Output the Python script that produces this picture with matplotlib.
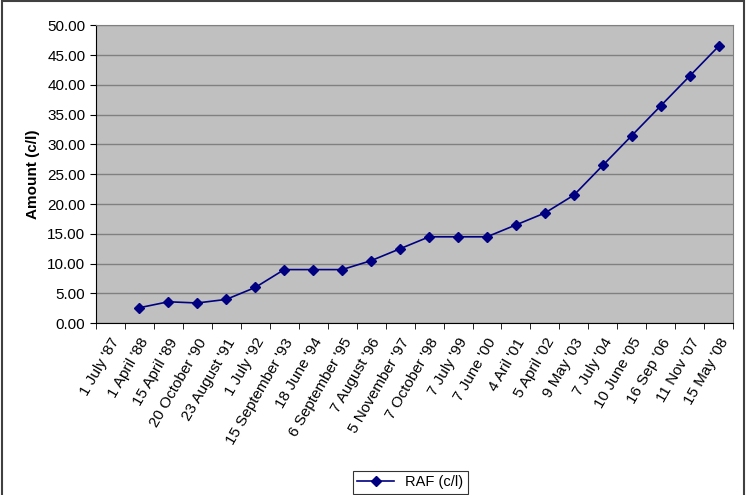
import matplotlib
matplotlib.use("Agg")
import matplotlib.pyplot as plt
import numpy as np

plt.rcParams["font.family"] = ["Liberation Sans", "DejaVu Sans"]

# fechas de los ajustes (categorias del eje x)
dates = ["1 July '87", "1 April '88", "15 April '89", "20 October '90",
         "23 August '91", "1 July '92", "15 September '93", "18 June '94",
         "6 September '95", "7 August '96", "5 November '97", "7 October '98",
         "7 July '99", "7 June '00", "4 Aril '01", "5 April '02", "9 May '03",
         "7 July '04", "10 June '05", "16 Sep '06", "11 Nov '07", "15 May '08"]

# RAF en c/l; la primera fecha no tiene valor
raf = [np.nan, 2.6, 3.6, 3.4, 4.0, 6.0, 9.0, 9.0, 9.0, 10.5, 12.5, 14.5,
       14.5, 14.5, 16.5, 18.5, 21.5, 26.5, 31.5, 36.5, 41.5, 46.5]

fig = plt.figure(figsize=(7.49, 4.95), dpi=100)
ax = fig.add_axes([0.128, 0.347, 0.851, 0.602])
ax.set_facecolor("#C0C0C0")

x = np.arange(len(dates))
ax.plot(x, raf, color="#000080", lw=1.2, marker="D", ms=5.5,
        mfc="#000080", mec="#000080", label="RAF (c/l)")

ax.set_xlim(-0.5, len(dates) - 0.5)
ax.set_ylim(0, 50)
ax.set_yticks(np.arange(0, 50.1, 5))
ax.set_yticklabels([f"{v:.2f}" for v in np.arange(0, 50.1, 5)], fontsize=11)
ax.yaxis.grid(True, color="#808080", lw=1)
ax.set_axisbelow(True)

ax.set_xticks(x)
ax.set_xticklabels(dates, rotation=60, ha="right", rotation_mode="anchor", fontsize=11)
ax.set_xticks(np.arange(-0.5, len(dates)), minor=True)
ax.tick_params(axis="x", which="major", length=0, pad=9)
ax.tick_params(axis="x", which="minor", length=4, color="black")
ax.tick_params(axis="y", length=4, color="black")

ax.set_ylabel("Amount (c/l)", fontsize=11, fontweight="bold", labelpad=5)

for s in ["top", "right"]:
    ax.spines[s].set_color("#808080")
for s in ["left", "bottom"]:
    ax.spines[s].set_color("black")

leg = fig.legend(loc="lower center", bbox_to_anchor=(0.548, -0.012), fontsize=10.5,
                 frameon=True, fancybox=False, edgecolor="black", borderpad=0.3,
                 handlelength=2.5)
leg.get_frame().set_linewidth(0.8)

# borde exterior del grafico
fig.patches.append(plt.Rectangle((0.003, -0.01), 0.99, 1.008, transform=fig.transFigure,
                                 fill=False, edgecolor="#404040", lw=1.5))

fig.savefig("out.png", dpi=100)
